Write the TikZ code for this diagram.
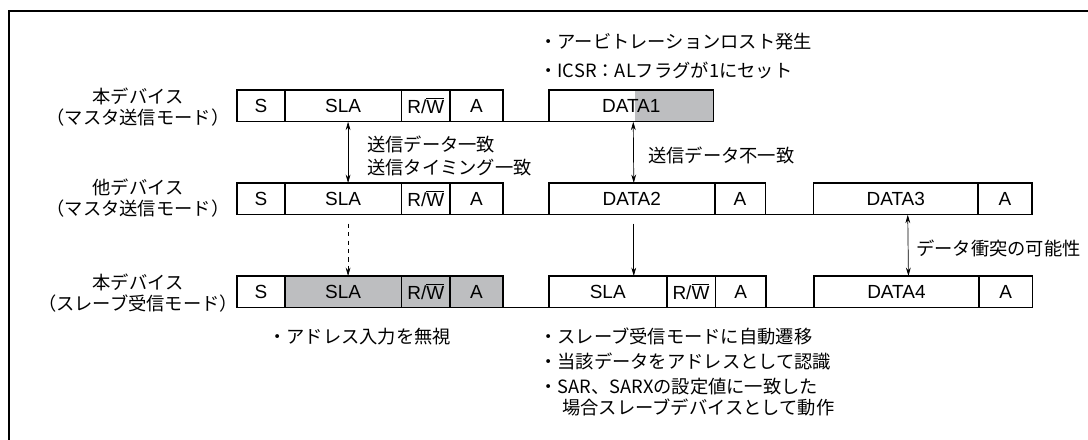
\documentclass[tikz,border=0pt]{standalone}
\usepackage{fontspec}
\setmainfont{Liberation Sans}
\newfontfamily\jp{Noto Sans CJK JP}
\usepackage{tikz}
\usetikzlibrary{arrows.meta,positioning}
\definecolor{lostgray}{RGB}{189, 190, 192}
\newcommand{\rwbar}{R/$\overline{\mbox{W}}$}

\begin{document}
\begin{tikzpicture}[
    x=0.025cm, y=-0.025cm,
    seg/.style={rectangle, draw, line width=0.5pt, minimum height=0.775cm, inner sep=0pt, font=\fontsize{13.5}{15}\selectfont},
    lost/.style={seg, fill=lostgray},
    devname/.style={font=\jp\fontsize{13}{14.5}\selectfont, align=center, inner sep=0pt},
    note/.style={font=\jp\fontsize{13}{17.5}\selectfont, align=left, inner sep=0pt},
    frameline/.style={line width=1.1pt},
    arrow/.style={->, >={Stealth[length=6pt, width=3.4pt]}, line width=0.5pt}
]
\useasboundingbox (0,0) rectangle (1088,440);
\clip (0,0) rectangle (1088,440);
\draw[line width=1.3pt] (9,460) |- (1100,11);

% Device names
\node[devname] (own) at (138,107) {本デバイス\\（マスタ送信モード）};
\node[devname] (other) at (138,198) {他デバイス\\（マスタ送信モード）};
\node[devname] (slave) at (138,293) {本デバイス\\（スレーブ受信モード）};

% Row 1: own device, master transmit
\node[seg, anchor=north west, minimum width=1.175cm] (s1) at (237,90) {S};
\node[seg, minimum width=2.9cm, right=0pt of s1] (sla1) {SLA};
\node[seg, minimum width=1.2cm, right=0pt of sla1] (rw1) {\rwbar};
\node[seg, minimum width=1.3cm, right=0pt of rw1] (a1) {A};
\node[seg, minimum width=4.1cm, right=1.15cm of a1,
    path picture={\fill[lostgray] ([xshift=0.1cm]path picture bounding box.north) rectangle (path picture bounding box.south east);}] (data1) {DATA1};

% Row 2: other device, master transmit
\node[seg, anchor=north west, minimum width=1.175cm] (s2) at (237,183) {S};
\node[seg, minimum width=2.9cm, right=0pt of s2] (sla2) {SLA};
\node[seg, minimum width=1.2cm, right=0pt of sla2] (rw2) {\rwbar};
\node[seg, minimum width=1.3cm, right=0pt of rw2] (a2) {A};
\node[seg, minimum width=4.125cm, right=1.15cm of a2] (data2) {DATA2};
\node[seg, minimum width=1.25cm, right=0pt of data2] (ad2) {A};
\node[seg, minimum width=4.1cm, right=1.2cm of ad2] (data3) {DATA3};
\node[seg, minimum width=1.325cm, right=0pt of data3] (ad3) {A};

% Row 3: own device, slave receive
\node[seg, anchor=north west, minimum width=1.175cm] (s3) at (237,276) {S};
\node[lost, minimum width=2.9cm, right=0pt of s3] (sla3) {SLA};
\node[lost, minimum width=1.2cm, right=0pt of sla3] (rw3) {\rwbar};
\node[lost, minimum width=1.3cm, right=0pt of rw3] (a3) {A};
\node[seg, minimum width=2.925cm, right=1.15cm of a3] (slb3) {SLA};
\node[seg, minimum width=1.2cm, right=0pt of slb3] (rwb3) {\rwbar};
\node[seg, minimum width=1.25cm, right=0pt of rwb3] (ab3) {A};
\node[seg, minimum width=4.1cm, right=1.2cm of ab3] (data4) {DATA4};
\node[seg, minimum width=1.325cm, right=0pt of data4] (ad4) {A};

% Frame outlines
\draw[frameline] (s1.south west) |- (a1.north east) -- (a1.south east);
\draw[frameline] (data1.south west) |- (data1.north east) -- (data1.south east);
\draw[frameline] (s1.south west) -- (data1.south east);
\draw[frameline] (s2.south west) |- (a2.north east) -- (a2.south east);
\draw[frameline] (data2.south west) |- (ad2.north east) -- (ad2.south east);
\draw[frameline] (data3.south west) |- (ad3.north east) -- (ad3.south east);
\draw[frameline] (s2.south west) -- (ad3.south east);
\draw[frameline] (s3.south west) |- (a3.north east) -- (a3.south east);
\draw[frameline] (slb3.south west) |- (ab3.north east) -- (ab3.south east);
\draw[frameline] (data4.south west) |- (ad4.north east) -- (ad4.south east);
\draw[frameline] (s3.south west) -- (ad4.south east);

% Arrows
\draw[arrow, <->] ([xshift=0.125cm]sla1.south) -- ([xshift=0.125cm]sla2.north);
\draw[arrow, <->] ([xshift=0.05cm]data1.south) -- ([xshift=0.05cm]data2.north);
\draw[arrow, dashed, shorten <=0.225cm] ([xshift=0.125cm]sla2.south) -- ([xshift=0.125cm]sla3.north);
\draw[arrow, shorten <=0.225cm] ([xshift=0.05cm]data2.south) -- ([xshift=0.05cm]data2.south |- slb3.north);
\draw[arrow, <->] ([xshift=0.3cm]data3.south) -- ([xshift=0.3cm]data4.north);

% Notes
\node[note, anchor=north west, font=\jp\fontsize{13}{20.5}\selectfont] (lost) at (539,33) {・アービトレーションロスト発生\\・ICSR：ALフラグが1にセット};
\node[note, anchor=north west, font=\jp\fontsize{13}{16.3}\selectfont] (match) at (367,136) {送信データ一致\\送信タイミング一致};
\node[note, anchor=west] (mismatch) at (648,155) {送信データ不一致};
\node[note, anchor=west] (collide) at (916,248) {データ衝突の可能性};
\node[note, anchor=north west] (ignore) at (268,328) {・アドレス入力を無視};
\node[note, anchor=north west] (auto) at (539,328) {・スレーブ受信モードに自動遷移\\・当該データをアドレスとして認識\\・SAR、SARXの設定値に一致した\\[-0.075cm]\hspace*{0.575cm}場合スレーブデバイスとして動作};
\end{tikzpicture}
\end{document}
